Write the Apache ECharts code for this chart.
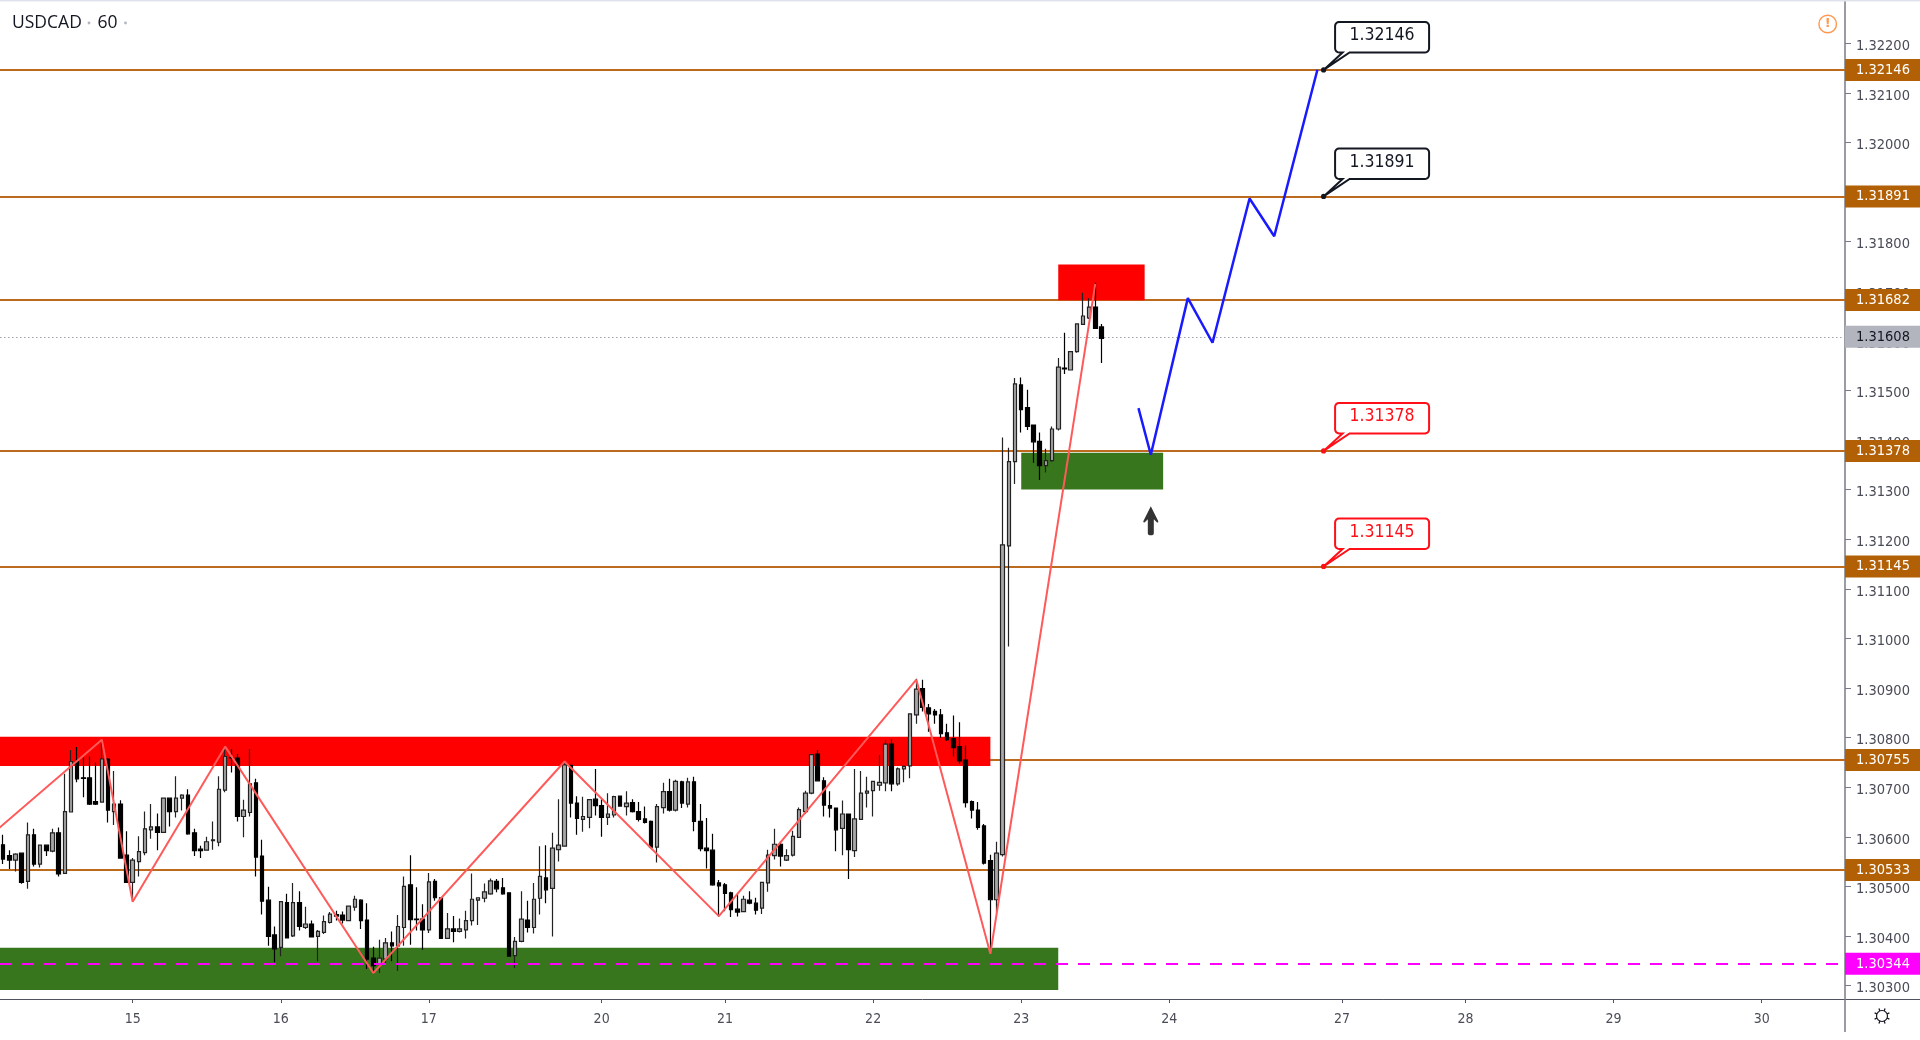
<!DOCTYPE html>
<html>
<head>
<meta charset="utf-8">
<style>
html,body{margin:0;padding:0;background:#fff;}
#c{width:1920px;height:1040px;filter:blur(0.35px);}
</style>
<script src="https://cdn.jsdelivr.net/npm/echarts@6/dist/echarts.min.js"></script>
</head>
<body>
<div id="c"></div>
<script>
// ---- Chart values ----
const dayIndex = [21,45,69,97,117,141,165,189,217,237,261,285];
const dayLabels = ["15","16","17","20","21","22","23","24","27","28","29","30"];
const barSlots = 299;

const opens = [1.30586,1.30564,1.30555,1.30569,1.30512,1.30606,1.30547,1.30585,1.30573,1.30610,
1.30528,1.30652,1.30754,1.30721,1.30721,1.30673,1.30672,1.30759,1.30653,1.30668,
1.30565,1.30510,1.30552,1.30570,1.30616,1.30622,1.30611,1.30680,1.30653,1.30680,
1.30686,1.30610,1.30577,1.30575,1.30594,1.30591,1.30696,1.30762,1.30761,1.30643,
1.30651,1.30711,1.30563,1.30474,1.30404,1.30379,1.30469,1.30402,1.30469,1.30419,
1.30426,1.30401,1.30409,1.30429,1.30445,1.30444,1.30433,1.30460,1.30474,1.30434,
1.30357,1.30345,1.30355,1.30388,1.30382,1.30419,1.30505,1.30436,1.30436,1.30414,
1.30512,1.30479,1.30397,1.30416,1.30411,1.30414,1.30433,1.30474,1.30478,1.30487,
1.30512,1.30499,1.30489,1.30362,1.30391,1.30434,1.30419,1.30478,1.30519,1.30498,
1.30576,1.30583,1.30746,1.30670,1.30637,1.30641,1.30678,1.30665,1.30641,1.30646,
1.30684,1.30663,1.30671,1.30653,1.30638,1.30633,1.30581,1.30661,1.30693,1.30656,
1.30713,1.30668,1.30713,1.30633,1.30579,1.30575,1.30509,1.30505,1.30489,1.30456,
1.30451,1.30474,1.30468,1.30458,1.30509,1.30564,1.30587,1.30555,1.30565,1.30601,
1.30653,1.30690,1.30769,1.30715,1.30665,1.30660,1.30619,1.30648,1.30574,1.30637,
1.30690,1.30695,1.30706,1.30711,1.30789,1.30709,1.30739,1.30745,1.30848,1.30901,
1.30862,1.30855,1.30848,1.30812,1.30800,1.30784,1.30757,1.30673,1.30656,1.30624,
1.30554,1.30475,1.30566,1.31189,1.31359,1.31514,1.31468,1.31433,1.31400,1.31351,
1.31361,1.31425,1.31548,1.31544,1.31581,1.31636,1.31649,1.31671,1.31631];

const closes = [1.30557,1.30555,1.30567,1.30510,1.30606,1.30547,1.30585,1.30574,1.30610,1.30527,
1.30653,1.30754,1.30719,1.30720,1.30668,1.30668,1.30759,1.30656,1.30668,1.30559,
1.30510,1.30555,1.30572,1.30618,1.30622,1.30611,1.30680,1.30653,1.30680,1.30686,
1.30608,1.30574,1.30574,1.30592,1.30596,1.30698,1.30764,1.30761,1.30643,1.30656,
1.30709,1.30561,1.30472,1.30401,1.30376,1.30471,1.30398,1.30469,1.30421,1.30426,
1.30400,1.30411,1.30431,1.30446,1.30442,1.30434,1.30462,1.30476,1.30433,1.30355,
1.30342,1.30357,1.30388,1.30382,1.30421,1.30502,1.30435,1.30435,1.30414,1.30511,
1.30479,1.30397,1.30416,1.30411,1.30416,1.30433,1.30476,1.30479,1.30491,1.30513,
1.30497,1.30487,1.30361,1.30391,1.30436,1.30419,1.30476,1.30522,1.30495,1.30579,
1.30585,1.30747,1.30670,1.30639,1.30643,1.30677,1.30665,1.30641,1.30648,1.30683,
1.30664,1.30670,1.30653,1.30637,1.30631,1.30581,1.30663,1.30693,1.30656,1.30714,
1.30670,1.30713,1.30633,1.30578,1.30574,1.30505,1.30503,1.30488,1.30455,1.30450,
1.30476,1.30468,1.30454,1.30510,1.30565,1.30587,1.30563,1.30564,1.30603,1.30657,
1.30690,1.30768,1.30715,1.30666,1.30660,1.30616,1.30648,1.30576,1.30638,1.30690,
1.30694,1.30714,1.30712,1.30789,1.30709,1.30739,1.30744,1.30850,1.30900,1.30863,
1.30850,1.30848,1.30810,1.30798,1.30782,1.30755,1.30671,1.30656,1.30621,1.30549,
1.30475,1.30569,1.31191,1.31359,1.31516,1.31464,1.31430,1.31399,1.31351,1.31361,
1.31425,1.31550,1.31546,1.31581,1.31637,1.31653,1.31671,1.31628,1.31608];

const highs = [1.30606,1.30575,1.30569,1.30569,1.30631,1.30618,1.30585,1.30585,1.30618,1.30621,
1.30729,1.30777,1.30783,1.30762,1.30764,1.30752,1.30796,1.30761,1.30735,1.30676,
1.30613,1.30559,1.30603,1.30653,1.30668,1.30649,1.30680,1.30680,1.30724,1.30688,
1.30698,1.30618,1.30584,1.30602,1.30633,1.30724,1.30781,1.30779,1.30769,1.30677,
1.30779,1.30719,1.30596,1.30501,1.30421,1.30472,1.30487,1.30509,1.30492,1.30461,
1.30433,1.30414,1.30443,1.30450,1.30453,1.30451,1.30462,1.30483,1.30476,1.30468,
1.30380,1.30394,1.30398,1.30411,1.30444,1.30522,1.30565,1.30500,1.30466,1.30529,
1.30517,1.30479,1.30448,1.30442,1.30437,1.30453,1.30528,1.30480,1.30508,1.30518,
1.30517,1.30519,1.30490,1.30400,1.30492,1.30473,1.30509,1.30583,1.30585,1.30610,
1.30678,1.30752,1.30747,1.30684,1.30683,1.30678,1.30739,1.30678,1.30690,1.30685,
1.30685,1.30694,1.30678,1.30672,1.30663,1.30635,1.30668,1.30711,1.30719,1.30717,
1.30715,1.30721,1.30723,1.30668,1.30640,1.30608,1.30515,1.30509,1.30491,1.30488,
1.30483,1.30492,1.30479,1.30511,1.30576,1.30618,1.30593,1.30577,1.30614,1.30661,
1.30695,1.30769,1.30777,1.30722,1.30694,1.30661,1.30675,1.30648,1.30739,1.30735,
1.30723,1.30715,1.30767,1.30797,1.30799,1.30742,1.30746,1.30850,1.30921,1.30919,
1.30870,1.30860,1.30860,1.30830,1.30847,1.30833,1.30786,1.30675,1.30672,1.30628,
1.30566,1.30592,1.31408,1.31387,1.31528,1.31529,1.31504,1.31433,1.31418,1.31385,
1.31430,1.31568,1.31619,1.31581,1.31637,1.31700,1.31689,1.31720,1.31637];

const lows = [1.30547,1.30537,1.30532,1.30507,1.30497,1.30542,1.30540,1.30563,1.30571,1.30522,
1.30527,1.30651,1.30712,1.30682,1.30666,1.30666,1.30672,1.30631,1.30626,1.30558,
1.30510,1.30473,1.30522,1.30565,1.30598,1.30575,1.30611,1.30623,1.30641,1.30655,
1.30606,1.30563,1.30559,1.30574,1.30576,1.30583,1.30692,1.30732,1.30633,1.30601,
1.30643,1.30522,1.30445,1.30382,1.30349,1.30361,1.30398,1.30400,1.30413,1.30416,
1.30399,1.30351,1.30406,1.30427,1.30433,1.30427,1.30433,1.30453,1.30416,1.30335,
1.30327,1.30327,1.30347,1.30351,1.30331,1.30382,1.30384,1.30413,1.30374,1.30408,
1.30473,1.30396,1.30396,1.30389,1.30409,1.30397,1.30423,1.30424,1.30470,1.30485,
1.30490,1.30485,1.30360,1.30337,1.30389,1.30409,1.30407,1.30445,1.30468,1.30401,
1.30552,1.30583,1.30641,1.30606,1.30612,1.30619,1.30645,1.30602,1.30626,1.30641,
1.30663,1.30645,1.30651,1.30633,1.30629,1.30579,1.30550,1.30649,1.30653,1.30653,
1.30660,1.30661,1.30613,1.30573,1.30538,1.30503,1.30441,1.30452,1.30440,1.30441,
1.30450,1.30466,1.30445,1.30446,1.30491,1.30556,1.30542,1.30553,1.30562,1.30600,
1.30648,1.30688,1.30714,1.30643,1.30641,1.30573,1.30565,1.30517,1.30561,1.30637,
1.30661,1.30643,1.30695,1.30694,1.30694,1.30705,1.30712,1.30720,1.30830,1.30855,
1.30814,1.30830,1.30802,1.30796,1.30764,1.30749,1.30661,1.30639,1.30616,1.30546,
1.30376,1.30449,1.30562,1.30986,1.31314,1.31418,1.31423,1.31357,1.31322,1.31337,
1.31359,1.31422,1.31536,1.31543,1.31579,1.31635,1.31647,1.31627,1.31558];

const priceTicks = [1.303,1.304,1.305,1.306,1.307,1.308,1.309,1.310,1.311,1.312,1.313,1.314,1.315,1.316,1.317,1.318,1.319,1.320,1.321,1.322];
const levelValues = [1.32146,1.31891,1.31682,1.31378,1.31145,1.30755,1.30533];
const lastPrice = 1.31608;
const supportPrice = 1.30344;

const zigzagIndex = [-1,16,21,36,60,91,116,148,160,177];
const zigzagPrice = [1.30616,1.30798,1.30471,1.30784,1.30327,1.30754,1.30442,1.30919,1.30366,1.31718];

const forecastIndex = [184,186,192,196,202,206,213];
const forecastPrice = [1.31467,1.31373,1.31689,1.31599,1.31890,1.31814,1.32150];

const zoneStart = [null,null,171,165];
const zoneEnd = [160,171,185,188];
const zoneTop = [1.30804,1.30378,1.31757,1.31377];
const zoneBottom = [1.30745,1.30293,1.31685,1.31303];
const zoneColors = ['#ff0000','#38761d','#ff0000','#38761d'];

const calloutIndex = [214,214,214,214];
const calloutValues = [1.32146,1.31891,1.31378,1.31145];
const calloutColors = ['#131722','#131722','#ff0f17','#ff0f17'];

const arrowIndex = 186;
const arrowPrice = 1.31240;

// The readings above were taken against a first estimate of the price scale;
// this small calibration (at most 0.00004) puts them on the scale fixed by the level lines.
const cal = p => 1.32146 - ((1.322 - p) * 49560 - 25) / 49610;

// ---- Styles ----
const AXIS_FONT = '"DejaVu Sans Condensed","DejaVu Sans"';
const BROWN = '#b26006';
const BROWN_LINE = '#bc6a1e';
const tagLabel = (bg, fg) => ({
  show:true, position:'end', distance:0, backgroundColor:bg, color:fg,
  fontFamily:AXIS_FONT, fontSize:14.5, padding:[4,12,4,11], lineHeight:14,
  formatter:p=>Number(p.value).toFixed(5)
});

function calloutShape(l,t,r,b,rad,a,c){
  const pts=[[0,0]];
  const arc=(cx,cy,s)=>{for(let k=0;k<=4;k++){const an=s+k*Math.PI/8;pts.push([cx+rad*Math.cos(an),cy+rad*Math.sin(an)]);}};
  pts.push([a,b]);
  arc(l+rad,b-rad,Math.PI/2);
  arc(l+rad,t+rad,Math.PI);
  arc(r-rad,t+rad,Math.PI*1.5);
  arc(r-rad,b-rad,0);
  pts.push([c,b]);
  return pts;
}

const gearParts = [{type:'circle',shape:{cx:0,cy:0,r:5.5},style:{fill:'none',stroke:'#131722',lineWidth:1.2}}];
for(let k=0;k<8;k++){
  const an=k*Math.PI/4+Math.PI/8;
  gearParts.push({type:'line',shape:{x1:5.5*Math.cos(an),y1:5.5*Math.sin(an),x2:8*Math.cos(an),y2:8*Math.sin(an)},style:{stroke:'#131722',lineWidth:1.3}});
}

const chart = echarts.init(document.getElementById('c'),null,{renderer:'canvas'});
const candles = opens.map((o,i)=>[cal(o),cal(closes[i]),cal(lows[i]),cal(highs[i])]);
const categories = Array.from({length:barSlots},(_,i)=>{const d=dayIndex.indexOf(i);return d>=0?dayLabels[d]:'b'+i;});

chart.setOption({
  animation:false,
  backgroundColor:'#ffffff',
  grid:{left:0,right:75,top:0,bottom:41,containLabel:false},
  xAxis:{
    type:'category',data:categories,boundaryGap:true,
    axisLine:{lineStyle:{color:'#50535e',width:1},onZero:false},
    axisTick:{show:true,alignWithLabel:true,length:4,interval:i=>dayIndex.includes(i),lineStyle:{color:'#50535e'}},
    axisLabel:{interval:i=>dayIndex.includes(i),color:'#4a4d57',fontFamily:AXIS_FONT,fontSize:14,margin:13},
    splitLine:{show:false}
  },
  yAxis:{
    type:'value',position:'right',min:1.30273,max:1.32287,scale:true,
    axisLine:{show:true,lineStyle:{color:'#787b86',width:1.5}},
    axisTick:{show:true,length:6,lineStyle:{color:'#787b86'},customValues:priceTicks},
    axisLabel:{color:'#4a4d57',fontFamily:AXIS_FONT,fontSize:14.5,margin:11,verticalAlign:'top',lineHeight:6,customValues:priceTicks,formatter:v=>Number(v).toFixed(5)},
    splitLine:{show:false}
  },
  series:[
    {type:'line',z:1,data:[],silent:true,
      markLine:{z:1,silent:true,symbol:'none',animation:false,precision:5,
        lineStyle:{color:BROWN_LINE,width:2,type:'solid'},
        label:tagLabel(BROWN,'#ffffff'),
        data:levelValues.map(v=>({yAxis:v}))}},
    {type:'line',z:1,data:[],silent:true,
      markLine:{z:1,silent:true,symbol:'none',animation:false,precision:5,
        lineStyle:{color:'#a0a3ad',width:1,type:[1.5,2.5]},
        label:tagLabel('#b2b5be','#131722'),
        data:[{yAxis:lastPrice}]}},
    {type:'line',z:2,data:[],silent:true,
      markArea:{z:2,silent:true,animation:false,
        data:zoneColors.map((col,i)=>[
          Object.assign({yAxis:cal(zoneTop[i]),itemStyle:{color:col,opacity:1}},zoneStart[i]===null?{}:{xAxis:zoneStart[i]}),
          {yAxis:cal(zoneBottom[i]),xAxis:zoneEnd[i]}
        ])}},
    {type:'candlestick',z:3,data:candles,barWidth:4,silent:true,
      itemStyle:{color:'#a8a8a8',color0:'#000000',borderColor:'#222222',borderColor0:'#000000',borderWidth:1.2}},
    {type:'line',z:4,silent:true,symbol:'none',
      data:zigzagIndex.map((x,i)=>[x,cal(zigzagPrice[i])]),
      lineStyle:{color:'#ff5a5a',width:2}},
    {type:'line',z:4,silent:true,symbol:'none',
      data:forecastIndex.map((x,i)=>[x,cal(forecastPrice[i])]),
      lineStyle:{color:'#1a1aff',width:2.5}},
    {type:'line',z:5,data:[],silent:true,
      markLine:{z:5,silent:true,symbol:'none',animation:false,precision:5,
        lineStyle:{color:'#ff00ff',width:2,type:[12,10]},
        label:tagLabel('#ff00ff','#ffffff'),
        data:[{yAxis:supportPrice}]}},
    {type:'scatter',z:6,silent:true,data:[[arrowIndex,cal(arrowPrice)]],
      symbol:'path://M7.5 0 L15 15 Q15 17 13.5 16 L10.5 13 L10.5 27 Q10.5 29 7.5 29 Q4.5 29 4.5 27 L4.5 13 L1.5 16 Q0 17 0 15 Z',
      symbolSize:[15,29],itemStyle:{color:'#000000'}},
    {type:'custom',z:7,silent:true,clip:false,
      data:calloutIndex.map((x,i)=>[x,calloutValues[i]]),
      encode:{x:0,y:1},
      renderItem:(params,api)=>{
        const p=api.coord([api.value(0),api.value(1)]);
        const col=calloutColors[params.dataIndex];
        return {type:'group',x:p[0],y:p[1],children:[
          {type:'polygon',shape:{points:calloutShape(11.5,-48,105.5,-17.5,4,19,26)},
            style:{fill:'#ffffff',stroke:col,lineWidth:2}},
          {type:'circle',shape:{cx:0,cy:0,r:2.6},style:{fill:col}},
          {type:'text',style:{x:58.5,y:-34,text:calloutValues[params.dataIndex].toFixed(5),fill:col,
            font:'17.5px "DejaVu Sans Condensed","DejaVu Sans"',textAlign:'center',textVerticalAlign:'middle'}}
        ]};
      }}
  ],
  graphic:[
    {type:'rect',silent:true,shape:{x:0,y:0,width:1920,height:1.5},style:{fill:'#e0e3eb'},z:100},
    {type:'line',silent:true,shape:{x1:1845,y1:999.5,x2:1920,y2:999.5},style:{stroke:'#50535e',lineWidth:1},z:100},
    {type:'line',silent:true,shape:{x1:1845,y1:999,x2:1845,y2:1032},style:{stroke:'#787b86',lineWidth:1.5},z:100},
    {type:'group',silent:true,x:1882,y:1016,children:gearParts,z:100},
    {type:'circle',silent:true,shape:{cx:1827.7,cy:24,r:8.8},style:{fill:'none',stroke:'#ff9850',lineWidth:1.4},z:100},
    {type:'text',silent:true,x:1827.7,y:24,style:{text:'!',fill:'#ff9850',font:'bold 13px "DejaVu Sans"',textAlign:'center',textVerticalAlign:'middle'},z:100},
    {type:'text',silent:true,x:12,y:23,style:{text:'USDCAD',fill:'#131722',font:'17.5px "Open Sans"',textAlign:'left',textVerticalAlign:'middle'},z:100},
    {type:'text',silent:true,x:97.5,y:23,style:{text:'60',fill:'#131722',font:'17.5px "Open Sans"',textAlign:'left',textVerticalAlign:'middle'},z:100},
    {type:'circle',silent:true,shape:{cx:89,cy:23,r:1.4},style:{fill:'#b2b5be'},z:100},
    {type:'circle',silent:true,shape:{cx:125.5,cy:23,r:1.4},style:{fill:'#b2b5be'},z:100}
  ]
});
</script>
</body>
</html>
